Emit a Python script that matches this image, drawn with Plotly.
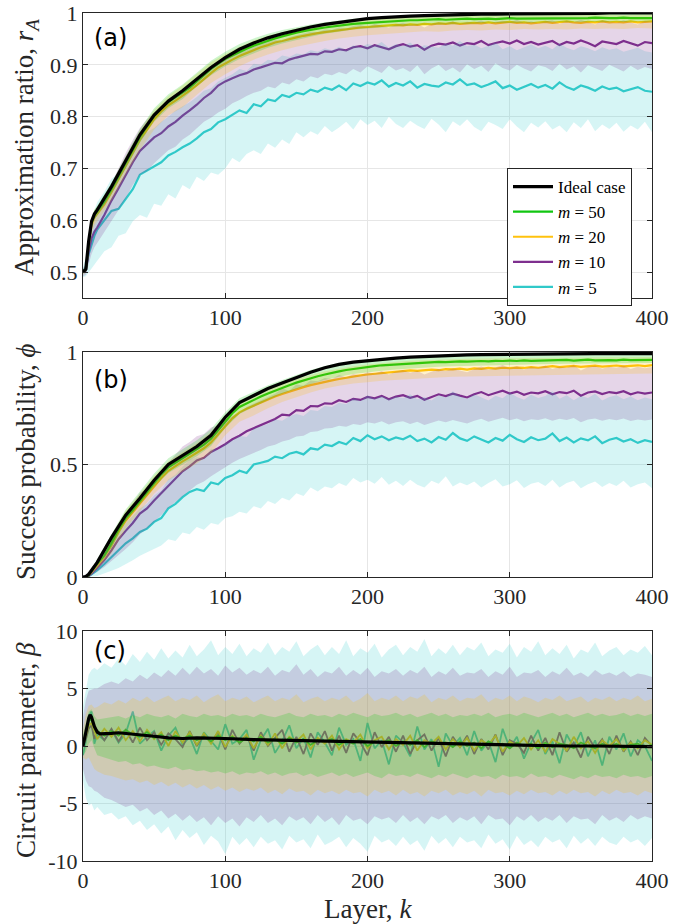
import plotly.graph_objects as go

# ---------------- grids (layer index k) ----------------
K = [0, 2, 4, 6, 8] + list(range(10, 401, 5))          # dense grid for noisy series
KS = [0, 2, 4, 6, 8, 10] + list(range(20, 401, 10))    # sparse grid for smooth series
KC = [0, 2, 4, 5, 6, 8, 10, 12, 15, 20, 25, 30, 40, 50, 60, 70, 80, 90, 100,
      120, 140, 160, 180, 200, 220, 240, 260, 280, 300, 320, 340, 360, 380, 400]

X_TICKS = [0, 100, 200, 300, 400]
YA_TICKS = [0.5, 0.6, 0.7, 0.8, 0.9, 1.0]
YA_TICKTEXT = ["0.5", "0.6", "0.7", "0.8", "0.9", "1"]
YB_TICKS = [0, 0.5, 1]
YB_TICKTEXT = ["0", "0.5", "1"]
YC_TICKS = [-10, -5, 0, 5, 10]
YC_TICKTEXT = ["-10", "-5", "0", "5", "10"]

SERIES_NAMES = ["<i>m</i> = 50", "<i>m</i> = 20", "<i>m</i> = 10", "<i>m</i> = 5"]

# ---------------- panel (a): approximation ratio ----------------
RA_IDEAL = [0.500, 0.506, 0.560, 0.598, 0.612, 0.620,
            0.665, 0.715, 0.765, 0.803, 0.830, 0.850, 0.872, 0.895, 0.914, 0.930,
            0.942, 0.952, 0.960, 0.967, 0.973, 0.978, 0.982, 0.986, 0.989, 0.991,
            0.993, 0.994, 0.995, 0.996, 0.997, 0.997, 0.998, 0.998, 0.998, 0.999,
            0.999, 0.999, 0.999, 0.999, 0.999, 1.000, 1.000, 1.000, 1.000]

RA_M50 = [0.500, 0.505, 0.555, 0.595, 0.610, 0.617, 0.636, 0.660,
          0.686, 0.711, 0.737, 0.761, 0.781, 0.801, 0.816, 0.828, 0.837, 0.846,
          0.856, 0.868, 0.880, 0.892, 0.902, 0.911, 0.918, 0.925, 0.931, 0.937,
          0.942, 0.947, 0.951, 0.955, 0.959, 0.962, 0.965, 0.968, 0.970, 0.972,
          0.974, 0.976, 0.977, 0.979, 0.980, 0.981, 0.982, 0.983, 0.984, 0.985,
          0.985, 0.986, 0.986, 0.987, 0.987, 0.988, 0.987, 0.988, 0.988, 0.989,
          0.988, 0.989, 0.989, 0.988, 0.989, 0.990, 0.989, 0.989, 0.990, 0.989,
          0.990, 0.989, 0.990, 0.990, 0.989, 0.990, 0.990, 0.991, 0.990, 0.990,
          0.990, 0.991, 0.990, 0.990, 0.991, 0.990]

RA_M20 = [0.500, 0.505, 0.552, 0.590, 0.605, 0.612, 0.630, 0.654,
          0.680, 0.705, 0.731, 0.755, 0.775, 0.795, 0.810, 0.822, 0.831, 0.840,
          0.850, 0.861, 0.873, 0.884, 0.895, 0.903, 0.910, 0.917, 0.923, 0.929,
          0.934, 0.938, 0.943, 0.946, 0.950, 0.953, 0.956, 0.959, 0.961, 0.963,
          0.965, 0.967, 0.969, 0.970, 0.972, 0.973, 0.974, 0.975, 0.976, 0.977,
          0.976, 0.978, 0.977, 0.979, 0.978, 0.980, 0.979, 0.981, 0.979, 0.980,
          0.981, 0.980, 0.982, 0.980, 0.981, 0.983, 0.981, 0.982, 0.980, 0.982,
          0.983, 0.981, 0.982, 0.984, 0.982, 0.981, 0.983, 0.982, 0.984, 0.982,
          0.983, 0.982, 0.984, 0.982, 0.983, 0.984]

RA_M10 = [0.500, 0.503, 0.540, 0.565, 0.578, 0.586, 0.610, 0.638,
          0.662, 0.688, 0.712, 0.734, 0.748, 0.760, 0.768, 0.781, 0.790, 0.802,
          0.812, 0.823, 0.836, 0.846, 0.860, 0.868, 0.874, 0.880, 0.884, 0.891,
          0.895, 0.899, 0.904, 0.903, 0.910, 0.914, 0.918, 0.921, 0.920, 0.926,
          0.925, 0.930, 0.928, 0.934, 0.936, 0.932, 0.938, 0.934, 0.930, 0.936,
          0.940, 0.935, 0.938, 0.929, 0.937, 0.941, 0.939, 0.943, 0.937, 0.942,
          0.940, 0.946, 0.938, 0.942, 0.945, 0.941, 0.947, 0.940, 0.944, 0.939,
          0.943, 0.946, 0.938, 0.944, 0.941, 0.947, 0.942, 0.936, 0.945, 0.943,
          0.940, 0.946, 0.941, 0.937, 0.944, 0.942]

RA_M5 = [0.500, 0.510, 0.535, 0.555, 0.570, 0.582, 0.600, 0.618,
         0.622, 0.640, 0.660, 0.688, 0.696, 0.704, 0.712, 0.725, 0.732, 0.741,
         0.748, 0.758, 0.770, 0.776, 0.789, 0.795, 0.803, 0.812, 0.807, 0.824,
         0.820, 0.833, 0.830, 0.842, 0.838, 0.846, 0.843, 0.852, 0.848, 0.856,
         0.852, 0.860, 0.851, 0.864, 0.859, 0.866, 0.862, 0.870, 0.858, 0.865,
         0.860, 0.868, 0.856, 0.863, 0.860, 0.858, 0.866, 0.862, 0.872, 0.861,
         0.864, 0.857, 0.862, 0.868, 0.855, 0.860, 0.852, 0.858, 0.863, 0.856,
         0.861, 0.854, 0.866, 0.857, 0.852, 0.860, 0.856, 0.850, 0.858, 0.853,
         0.856, 0.849, 0.853, 0.857, 0.850, 0.848]

RA_M5_LO = [0.490, 0.492, 0.500, 0.508, 0.515, 0.522, 0.540, 0.548,
            0.570, 0.575, 0.598, 0.610, 0.605, 0.632, 0.628, 0.650, 0.642, 0.668,
            0.660, 0.684, 0.676, 0.692, 0.688, 0.700, 0.720, 0.712, 0.728, 0.735,
            0.728, 0.748, 0.740, 0.756, 0.747, 0.770, 0.760, 0.772, 0.765, 0.782,
            0.770, 0.779, 0.790, 0.775, 0.795, 0.784, 0.792, 0.778, 0.800, 0.786,
            0.778, 0.792, 0.783, 0.776, 0.796, 0.785, 0.770, 0.791, 0.782, 0.795,
            0.780, 0.772, 0.790, 0.784, 0.776, 0.795, 0.781, 0.770, 0.788, 0.779,
            0.791, 0.775, 0.783, 0.770, 0.789, 0.778, 0.795, 0.772, 0.785, 0.776,
            0.788, 0.771, 0.783, 0.775, 0.790, 0.770]

RA_M5_HI = [0.510, 0.530, 0.570, 0.600, 0.620, 0.635, 0.655, 0.680,
            0.690, 0.710, 0.730, 0.760, 0.770, 0.778, 0.790, 0.800, 0.812, 0.820,
            0.828, 0.838, 0.850, 0.855, 0.868, 0.875, 0.882, 0.892, 0.888, 0.902,
            0.900, 0.910, 0.908, 0.918, 0.915, 0.922, 0.920, 0.928, 0.925, 0.932,
            0.928, 0.935, 0.928, 0.938, 0.934, 0.940, 0.937, 0.944, 0.933, 0.940,
            0.936, 0.943, 0.932, 0.938, 0.936, 0.933, 0.941, 0.937, 0.946, 0.936,
            0.939, 0.932, 0.937, 0.943, 0.930, 0.936, 0.928, 0.934, 0.939, 0.932,
            0.937, 0.930, 0.941, 0.933, 0.928, 0.936, 0.932, 0.926, 0.934, 0.929,
            0.932, 0.925, 0.929, 0.933, 0.926, 0.924]

RA_M10_LO = [0.492, 0.495, 0.515, 0.535, 0.548, 0.556, 0.578, 0.598,
             0.620, 0.642, 0.668, 0.688, 0.695, 0.710, 0.722, 0.735, 0.742, 0.756,
             0.765, 0.778, 0.790, 0.798, 0.808, 0.815, 0.826, 0.832, 0.840, 0.846,
             0.850, 0.858, 0.855, 0.866, 0.862, 0.872, 0.868, 0.878, 0.874, 0.883,
             0.880, 0.886, 0.882, 0.892, 0.885, 0.897, 0.890, 0.884, 0.898, 0.889,
             0.894, 0.886, 0.899, 0.882, 0.893, 0.900, 0.888, 0.895, 0.885, 0.901,
             0.892, 0.898, 0.886, 0.903, 0.894, 0.889, 0.900, 0.893, 0.887, 0.899,
             0.896, 0.888, 0.902, 0.891, 0.897, 0.885, 0.899, 0.893, 0.888, 0.900,
             0.894, 0.887, 0.898, 0.890, 0.896, 0.892]

RA_M10_HI = [0.508, 0.515, 0.565, 0.595, 0.608, 0.616, 0.642, 0.672,
             0.700, 0.730, 0.755, 0.778, 0.795, 0.808, 0.817, 0.830, 0.840, 0.850,
             0.860, 0.870, 0.882, 0.892, 0.904, 0.912, 0.918, 0.924, 0.928, 0.935,
             0.939, 0.943, 0.948, 0.947, 0.953, 0.957, 0.961, 0.964, 0.963, 0.968,
             0.967, 0.972, 0.970, 0.975, 0.977, 0.973, 0.979, 0.976, 0.972, 0.978,
             0.981, 0.977, 0.979, 0.972, 0.979, 0.982, 0.980, 0.984, 0.979, 0.983,
             0.981, 0.986, 0.979, 0.983, 0.985, 0.982, 0.987, 0.981, 0.984, 0.980,
             0.984, 0.986, 0.979, 0.985, 0.982, 0.987, 0.983, 0.978, 0.986, 0.984,
             0.981, 0.986, 0.982, 0.978, 0.985, 0.983]

RA_M20_LO = [0.495, 0.500, 0.540, 0.575, 0.590, 0.598,
             0.638, 0.688, 0.735, 0.775, 0.802, 0.818, 0.842, 0.865, 0.882, 0.897,
             0.910, 0.920, 0.928, 0.935, 0.941, 0.946, 0.951, 0.954, 0.957, 0.960,
             0.962, 0.963, 0.965, 0.964, 0.966, 0.967, 0.966, 0.968, 0.967, 0.969,
             0.968, 0.969, 0.968, 0.970, 0.969, 0.970, 0.969, 0.971, 0.970]

RA_M20_HI = [0.505, 0.512, 0.565, 0.605, 0.620, 0.626,
             0.670, 0.722, 0.773, 0.813, 0.840, 0.860, 0.882, 0.905, 0.921, 0.935,
             0.947, 0.956, 0.963, 0.970, 0.975, 0.979, 0.983, 0.986, 0.988, 0.990,
             0.991, 0.992, 0.993, 0.993, 0.994, 0.994, 0.995, 0.995, 0.995, 0.995,
             0.996, 0.996, 0.996, 0.996, 0.996, 0.997, 0.996, 0.997, 0.997]

RA_M50_LO = [0.497, 0.502, 0.548, 0.587, 0.602, 0.609,
             0.650, 0.700, 0.750, 0.790, 0.816, 0.834, 0.858, 0.880, 0.897, 0.911,
             0.922, 0.933, 0.941, 0.948, 0.954, 0.960, 0.964, 0.968, 0.970, 0.972,
             0.974, 0.976, 0.977, 0.978, 0.979, 0.979, 0.980, 0.980, 0.981, 0.981,
             0.981, 0.982, 0.982, 0.982, 0.982, 0.983, 0.983, 0.983, 0.983]

RA_M50_HI = [0.503, 0.510, 0.565, 0.605, 0.620, 0.628,
             0.672, 0.724, 0.776, 0.816, 0.843, 0.862, 0.885, 0.908, 0.925, 0.940,
             0.951, 0.960, 0.967, 0.973, 0.978, 0.982, 0.986, 0.989, 0.991, 0.993,
             0.994, 0.995, 0.996, 0.996, 0.997, 0.997, 0.997, 0.998, 0.998, 0.998,
             0.998, 0.998, 0.999, 0.999, 0.999, 0.999, 0.999, 0.999, 0.999]

# ---------------- panel (b): success probability ----------------
PHI_IDEAL = [0.000, 0.002, 0.012, 0.030, 0.050, 0.065,
             0.175, 0.275, 0.350, 0.430, 0.500, 0.540, 0.580, 0.630, 0.710, 0.775,
             0.808, 0.838, 0.862, 0.886, 0.910, 0.930, 0.945, 0.955, 0.962, 0.968,
             0.973, 0.977, 0.980, 0.983, 0.985, 0.987, 0.988, 0.989, 0.990, 0.991,
             0.991, 0.992, 0.992, 0.992, 0.993, 0.993, 0.993, 0.993, 0.993]

PHI_M50 = [0.000, 0.001, 0.008, 0.025, 0.045, 0.060, 0.095, 0.150,
           0.212, 0.262, 0.298, 0.338, 0.378, 0.418, 0.456, 0.488, 0.508, 0.528,
           0.548, 0.567, 0.588, 0.615, 0.652, 0.692, 0.728, 0.756, 0.772, 0.786,
           0.802, 0.816, 0.829, 0.841, 0.852, 0.864, 0.874, 0.884, 0.892, 0.900,
           0.908, 0.914, 0.920, 0.925, 0.930, 0.934, 0.937, 0.941, 0.943, 0.946,
           0.948, 0.950, 0.952, 0.951, 0.954, 0.956, 0.955, 0.957, 0.958, 0.957,
           0.959, 0.960, 0.958, 0.961, 0.960, 0.962, 0.960, 0.963, 0.961, 0.962,
           0.964, 0.962, 0.963, 0.965, 0.962, 0.964, 0.966, 0.963, 0.965, 0.964,
           0.963, 0.966, 0.964, 0.965, 0.963, 0.965]

PHI_M20 = [0.000, 0.001, 0.007, 0.022, 0.040, 0.055, 0.088, 0.140,
           0.200, 0.250, 0.286, 0.326, 0.364, 0.404, 0.440, 0.472, 0.494, 0.514,
           0.533, 0.552, 0.572, 0.598, 0.632, 0.670, 0.705, 0.732, 0.748, 0.762,
           0.776, 0.790, 0.802, 0.813, 0.824, 0.834, 0.844, 0.853, 0.861, 0.868,
           0.874, 0.880, 0.886, 0.891, 0.896, 0.900, 0.903, 0.907, 0.910, 0.913,
           0.915, 0.918, 0.916, 0.920, 0.922, 0.919, 0.924, 0.923, 0.926, 0.922,
           0.927, 0.925, 0.929, 0.926, 0.930, 0.928, 0.931, 0.929, 0.933, 0.930,
           0.934, 0.937, 0.933, 0.936, 0.938, 0.934, 0.937, 0.939, 0.935, 0.938,
           0.940, 0.936, 0.939, 0.941, 0.937, 0.942]

PHI_M10 = [0.000, 0.001, 0.005, 0.015, 0.028, 0.040, 0.075, 0.118,
           0.168, 0.205, 0.240, 0.282, 0.305, 0.340, 0.372, 0.408, 0.440, 0.470,
           0.492, 0.518, 0.530, 0.556, 0.572, 0.590, 0.612, 0.628, 0.648, 0.662,
           0.676, 0.690, 0.702, 0.722, 0.718, 0.742, 0.738, 0.760, 0.758, 0.772,
           0.770, 0.786, 0.778, 0.792, 0.787, 0.800, 0.794, 0.805, 0.790, 0.802,
           0.808, 0.796, 0.805, 0.788, 0.800, 0.812, 0.804, 0.815, 0.806, 0.798,
           0.812, 0.822, 0.808, 0.818, 0.828, 0.815, 0.824, 0.810, 0.820, 0.816,
           0.826, 0.812, 0.822, 0.817, 0.828, 0.806, 0.820, 0.825, 0.813, 0.822,
           0.817, 0.826, 0.812, 0.821, 0.815, 0.820]

PHI_M5 = [0.000, 0.001, 0.004, 0.012, 0.020, 0.030, 0.058, 0.090,
          0.118, 0.150, 0.172, 0.200, 0.215, 0.245, 0.262, 0.305, 0.325, 0.355,
          0.378, 0.390, 0.382, 0.420, 0.412, 0.440, 0.452, 0.472, 0.462, 0.500,
          0.508, 0.516, 0.535, 0.528, 0.548, 0.556, 0.545, 0.572, 0.566, 0.588,
          0.582, 0.600, 0.590, 0.618, 0.604, 0.630, 0.612, 0.625, 0.608, 0.620,
          0.612, 0.628, 0.604, 0.615, 0.598, 0.622, 0.610, 0.640, 0.616, 0.605,
          0.625, 0.610, 0.598, 0.618, 0.606, 0.632, 0.612, 0.600, 0.621, 0.608,
          0.615, 0.638, 0.604, 0.620, 0.598, 0.616, 0.607, 0.625, 0.595, 0.610,
          0.618, 0.602, 0.612, 0.596, 0.608, 0.600]

PHI_M5_LO = [0.000, 0.000, 0.000, 0.002, 0.003, 0.005, 0.015, 0.028,
             0.040, 0.058, 0.075, 0.095, 0.108, 0.125, 0.140, 0.168, 0.160, 0.198,
             0.190, 0.222, 0.210, 0.240, 0.232, 0.262, 0.270, 0.290, 0.282, 0.315,
             0.305, 0.338, 0.325, 0.352, 0.340, 0.372, 0.360, 0.398, 0.380, 0.402,
             0.395, 0.418, 0.405, 0.440, 0.420, 0.432, 0.415, 0.445, 0.410, 0.428,
             0.405, 0.432, 0.410, 0.398, 0.428, 0.415, 0.448, 0.402, 0.420, 0.408,
             0.425, 0.398, 0.418, 0.435, 0.402, 0.412, 0.430, 0.396, 0.415, 0.422,
             0.405, 0.432, 0.398, 0.418, 0.428, 0.395, 0.412, 0.425, 0.400, 0.418,
             0.405, 0.428, 0.398, 0.412, 0.420, 0.395]

PHI_M5_HI = [0.000, 0.004, 0.012, 0.028, 0.042, 0.058, 0.100, 0.150,
             0.195, 0.240, 0.272, 0.305, 0.325, 0.362, 0.385, 0.435, 0.455, 0.490,
             0.520, 0.532, 0.528, 0.570, 0.565, 0.592, 0.608, 0.628, 0.622, 0.660,
             0.670, 0.680, 0.700, 0.695, 0.715, 0.724, 0.716, 0.742, 0.738, 0.760,
             0.756, 0.775, 0.768, 0.795, 0.782, 0.808, 0.792, 0.805, 0.790, 0.802,
             0.795, 0.812, 0.790, 0.800, 0.785, 0.808, 0.798, 0.826, 0.802, 0.792,
             0.812, 0.798, 0.785, 0.806, 0.794, 0.820, 0.800, 0.788, 0.810, 0.796,
             0.804, 0.826, 0.792, 0.808, 0.786, 0.804, 0.796, 0.814, 0.784, 0.800,
             0.808, 0.790, 0.802, 0.786, 0.798, 0.790]

PHI_M10_LO = [0.000, 0.000, 0.002, 0.008, 0.015, 0.022, 0.045, 0.068,
              0.098, 0.125, 0.155, 0.190, 0.215, 0.245, 0.275, 0.308, 0.335, 0.360,
              0.385, 0.410, 0.425, 0.448, 0.470, 0.488, 0.508, 0.525, 0.540, 0.552,
              0.565, 0.580, 0.588, 0.602, 0.610, 0.625, 0.628, 0.645, 0.648, 0.660,
              0.662, 0.672, 0.668, 0.680, 0.676, 0.688, 0.682, 0.692, 0.678, 0.688,
              0.692, 0.680, 0.690, 0.676, 0.686, 0.696, 0.688, 0.698, 0.690, 0.682,
              0.695, 0.703, 0.690, 0.700, 0.708, 0.697, 0.704, 0.692, 0.701, 0.698,
              0.706, 0.694, 0.703, 0.698, 0.707, 0.688, 0.700, 0.705, 0.694, 0.702,
              0.697, 0.705, 0.693, 0.700, 0.696, 0.700]

PHI_M10_HI = [0.000, 0.003, 0.010, 0.025, 0.042, 0.058, 0.105, 0.168,
              0.238, 0.285, 0.325, 0.374, 0.395, 0.435, 0.469, 0.508, 0.545, 0.580,
              0.600, 0.626, 0.636, 0.664, 0.675, 0.692, 0.716, 0.731, 0.756, 0.770,
              0.786, 0.800, 0.815, 0.838, 0.828, 0.856, 0.850, 0.873, 0.870, 0.884,
              0.880, 0.898, 0.888, 0.902, 0.897, 0.910, 0.904, 0.916, 0.900, 0.913,
              0.920, 0.908, 0.917, 0.900, 0.912, 0.925, 0.916, 0.928, 0.918, 0.910,
              0.925, 0.936, 0.921, 0.931, 0.942, 0.928, 0.938, 0.922, 0.934, 0.929,
              0.940, 0.924, 0.935, 0.930, 0.942, 0.918, 0.933, 0.939, 0.926, 0.935,
              0.930, 0.940, 0.925, 0.934, 0.928, 0.933]

PHI_M20_LO = [0.000, 0.000, 0.003, 0.012, 0.025, 0.035,
              0.105, 0.215, 0.295, 0.370, 0.430, 0.468, 0.505, 0.550, 0.630, 0.690,
              0.718, 0.750, 0.778, 0.800, 0.820, 0.838, 0.850, 0.860, 0.866, 0.872,
              0.876, 0.880, 0.884, 0.887, 0.890, 0.892, 0.894, 0.896, 0.897, 0.898,
              0.899, 0.900, 0.901, 0.902, 0.903, 0.903, 0.904, 0.904, 0.905]

PHI_M20_HI = [0.002, 0.004, 0.012, 0.032, 0.055, 0.075,
              0.185, 0.295, 0.370, 0.450, 0.515, 0.555, 0.595, 0.645, 0.718, 0.776,
              0.806, 0.836, 0.860, 0.880, 0.898, 0.914, 0.927, 0.937, 0.945, 0.952,
              0.957, 0.961, 0.964, 0.966, 0.968, 0.970, 0.971, 0.972, 0.973, 0.974,
              0.975, 0.975, 0.976, 0.976, 0.977, 0.977, 0.977, 0.978, 0.978]

PHI_M50_LO = [0.000, 0.000, 0.005, 0.018, 0.035, 0.048,
              0.130, 0.245, 0.322, 0.400, 0.462, 0.500, 0.537, 0.582, 0.662, 0.724,
              0.754, 0.787, 0.814, 0.837, 0.858, 0.876, 0.890, 0.902, 0.910, 0.917,
              0.922, 0.927, 0.931, 0.934, 0.937, 0.939, 0.941, 0.943, 0.944, 0.945,
              0.946, 0.947, 0.948, 0.949, 0.949, 0.950, 0.950, 0.951, 0.951]

PHI_M50_HI = [0.002, 0.004, 0.014, 0.036, 0.060, 0.078,
              0.192, 0.300, 0.380, 0.460, 0.528, 0.568, 0.608, 0.658, 0.732, 0.795,
              0.825, 0.852, 0.876, 0.899, 0.920, 0.938, 0.951, 0.960, 0.967, 0.972,
              0.976, 0.979, 0.981, 0.983, 0.984, 0.985, 0.986, 0.987, 0.987, 0.988,
              0.988, 0.988, 0.989, 0.989, 0.989, 0.989, 0.989, 0.989, 0.989]

# ---------------- panel (c): circuit parameter beta ----------------
BETA_IDEAL = [0.0, 1.3, 2.4, 2.7, 2.5, 1.7, 1.2, 1.05, 1.05, 1.1, 1.15, 1.1, 1.0,
              0.85, 0.7, 0.65, 0.7, 0.7, 0.65, 0.55, 0.5, 0.4, 0.35, 0.3, 0.25,
              0.2, 0.15, 0.1, 0.05, 0.05, 0.0, 0.0, -0.05, -0.05]

BETA_M50 = [0.0, 1.0, 2.2, 2.3, 1.6, 1.3, 0.9, 1.3,
            0.9, 1.4, 1.0, 0.8, 1.2, 0.7, 1.0, 0.5, 0.9, 0.6,
            0.9, 0.5, 0.8, 0.4, 0.9, 0.5, 0.8, 0.3, 0.7, 0.4,
            0.8, 0.3, 0.6, 0.2, 0.7, 0.3, 0.6, 0.1, 0.5, 0.4,
            0.6, 0.1, 0.5, 0.2, 0.6, 0.0, 0.4, 0.3, 0.5, 0.0,
            0.4, 0.1, 0.5, -0.1, 0.4, 0.2, 0.3, -0.1, 0.4, 0.0,
            0.3, -0.2, 0.4, 0.1, 0.2, -0.2, 0.3, 0.0, 0.2, -0.2,
            0.3, -0.1, 0.2, 0.1, -0.2, 0.3, 0.0, -0.2, 0.2, -0.1,
            0.2, -0.2, 0.1, 0.2, -0.1, 0.1]

BETA_M20 = [0.0, 0.8, 1.8, 2.0, 1.2, 0.6, 1.5, 0.8,
            1.6, 0.5, 1.3, 0.4, 1.4, 0.6, 1.2, 0.0, 1.3, 0.3,
            1.2, 0.1, 1.1, 0.2, 1.3, -0.1, 0.9, 0.3, 1.0, -0.2,
            0.9, 0.1, 1.1, -0.2, 0.8, 0.4, 1.0, -0.3, 0.7, 0.2,
            0.9, -0.3, 0.6, 0.3, 1.0, -0.2, 0.5, 0.8, -0.3, 0.6,
            0.1, 0.9, -0.4, 0.5, 0.2, 0.8, -0.3, 0.6, -0.1, 0.7,
            -0.4, 0.5, 0.1, 0.9, -0.5, 0.4, 0.0, 0.7, -0.3, 0.5,
            -0.5, 0.6, 0.2, -0.4, 0.8, -0.2, 0.4, -0.6, 0.5, 0.0,
            0.6, -0.4, 0.3, -0.2, 0.5, 0.1]

BETA_M10 = [0.0, 0.6, 1.5, 1.8, 0.6, 1.4, 0.5, 1.5,
            0.4, 1.4, 0.3, 1.6, 0.5, 1.2, 0.1, 1.1, 0.6, -0.1,
            1.3, 0.0, 1.0, 0.3, 1.2, -0.3, 1.4, 0.2, 0.9, -0.4,
            1.2, 0.0, 0.7, 1.4, -0.5, 0.8, -0.7, 1.1, 0.1, 1.3,
            -0.4, 0.9, -0.6, 1.1, 0.3, -0.8, 1.2, -0.1, 0.8, -0.5,
            0.9, -0.7, 0.5, 1.0, -0.4, 0.7, -0.9, 0.8, -0.1, 0.9,
            -0.7, 0.6, -0.3, 1.0, -0.8, 0.5, 0.2, -0.6, 0.9, -0.4,
            0.7, -0.8, 1.2, -0.5, 0.3, -1.0, 0.8, -0.2, 0.6, -0.7,
            0.9, -0.5, 0.4, -0.8, 0.7, 0.0]

BETA_M5 = [-0.8, 0.4, 2.6, 3.0, 0.2, 1.0, 0.5, 1.4,
           0.3, 1.1, 3.0, 0.2, 0.8, 1.3, -0.4, 0.9, 1.6, 0.1,
           0.8, -0.7, 1.2, 0.4, -0.3, 1.9, 0.2, 0.6, 1.4, -1.2,
           0.5, 1.5, -0.6, 0.4, 1.8, -0.2, 0.7, -1.0, 1.2, 0.3,
           -0.8, 1.6, 0.1, 0.6, -1.3, 2.0, -0.2, 0.5, -1.6, 0.9,
           0.3, -0.9, 1.7, -0.3, 0.6, -1.8, 1.1, 0.0, 0.7, -0.8,
           1.3, -0.4, 0.4, -1.4, 1.5, -0.2, 0.8, -1.1, 0.3, 1.4,
           -0.7, 0.4, -1.5, 1.0, -0.1, 1.2, -0.9, 0.5, -1.7, 0.8,
           -0.3, 1.1, -0.9, 0.5, 0.0, -1.3]

BETA_M5_HI = [3.5, 5.0, 6.2, 6.6, 6.8, 6.6, 7.2, 6.8,
              7.6, 7.0, 8.0, 7.3, 8.2, 7.5, 8.5, 7.6, 8.3, 7.7,
              8.8, 7.8, 8.4, 9.2, 7.9, 8.6, 8.0, 8.9, 7.8, 8.5,
              8.1, 9.0, 7.9, 8.6, 8.2, 9.1, 7.8, 8.4, 8.8, 7.9,
              8.6, 8.0, 9.2, 7.8, 8.5, 8.1, 8.9, 7.7, 8.4, 8.8,
              7.9, 8.6, 8.2, 9.3, 7.8, 8.5, 8.0, 8.8, 7.9, 8.6,
              8.3, 9.0, 7.8, 8.4, 8.1, 8.9, 7.7, 8.6, 8.2, 9.1,
              7.9, 8.5, 8.0, 8.8, 7.6, 8.4, 8.1, 9.0, 7.8, 8.3,
              8.6, 7.9, 8.4, 8.1, 8.7, 7.9]

BETA_M5_LO = [-3.0, -4.5, -5.2, -5.0, -5.6, -5.3, -6.0, -5.8,
              -6.4, -6.1, -6.9, -6.5, -7.3, -6.8, -7.6, -7.0, -8.2, -7.3,
              -8.0, -7.5, -8.6, -7.8, -8.3, -9.4, -7.9, -8.6, -8.0, -8.8,
              -7.9, -8.5, -8.2, -9.0, -7.8, -8.4, -8.1, -8.9, -7.7, -8.6,
              -8.3, -7.9, -8.8, -8.0, -8.5, -9.2, -7.8, -8.4, -8.1, -8.7,
              -7.9, -8.6, -8.2, -9.1, -7.8, -8.5, -8.0, -8.8, -7.9, -8.4,
              -8.2, -8.9, -7.7, -8.5, -8.1, -9.0, -7.8, -8.6, -8.2, -8.8,
              -7.9, -8.4, -8.1, -8.9, -7.8, -8.5, -8.0, -8.7, -7.9, -8.4,
              -8.6, -7.9, -8.4, -8.1, -8.7, -8.0]

BETA_M10_HI = [2.5, 4.0, 4.8, 4.9, 5.0, 5.0, 5.4, 5.6,
               5.4, 5.9, 5.6, 6.2, 5.8, 6.4, 6.0, 6.6, 6.1, 6.8,
               6.2, 6.9, 6.3, 6.7, 6.1, 7.0, 6.4, 6.8, 6.2, 6.6,
               6.3, 6.9, 6.1, 6.6, 6.4, 7.1, 6.2, 6.7, 6.0, 6.5,
               6.3, 6.9, 6.1, 6.6, 6.2, 6.8, 6.0, 6.5, 6.3, 6.7,
               6.1, 6.6, 6.3, 6.9, 6.0, 6.5, 6.2, 6.8, 6.1, 6.4,
               6.3, 6.7, 6.0, 6.5, 6.2, 6.9, 6.0, 6.4, 6.3, 6.6,
               6.0, 6.5, 6.2, 6.8, 6.1, 6.4, 6.0, 6.6, 6.2, 6.4,
               6.1, 6.5, 6.0, 6.3, 6.2, 6.0]

BETA_M10_LO = [-2.0, -3.0, -3.5, -3.6, -3.9, -4.0, -4.5, -4.7,
               -5.0, -5.3, -5.1, -5.7, -5.4, -6.0, -5.6, -6.3, -5.9, -6.5,
               -6.0, -6.6, -6.2, -6.9, -6.1, -6.7, -6.3, -7.0, -6.2, -6.6,
               -6.0, -6.7, -6.3, -6.9, -6.1, -6.5, -6.2, -6.8, -6.0, -6.6,
               -6.2, -6.9, -6.0, -6.5, -6.3, -6.8, -6.1, -6.4, -6.2, -6.7,
               -6.0, -6.6, -6.2, -6.8, -6.1, -6.4, -6.0, -6.7, -6.2, -6.5,
               -6.1, -6.8, -6.0, -6.4, -6.3, -6.9, -6.1, -6.5, -6.0, -6.6,
               -6.2, -6.5, -6.0, -6.7, -6.1, -6.4, -6.3, -6.8, -6.0, -6.5,
               -6.2, -6.6, -6.0, -6.4, -6.1, -6.3]

BETA_M20_HI = [1.5, 2.8, 3.5, 3.6, 3.3, 3.4, 3.8, 3.6,
               4.0, 3.7, 4.2, 3.9, 4.3, 3.8, 4.1, 4.4, 3.9, 4.2,
               4.0, 4.4, 3.8, 4.2, 4.5, 3.9, 4.2, 4.0, 4.3, 3.8,
               4.1, 4.4, 3.9, 4.2, 4.0, 4.5, 3.8, 4.1, 4.3, 3.9,
               4.2, 4.0, 4.4, 3.8, 4.1, 4.6, 3.9, 4.2, 4.0, 4.4,
               3.9, 4.3, 4.1, 4.5, 3.8, 4.2, 4.0, 4.4, 3.9, 4.2,
               4.1, 4.5, 3.8, 4.2, 4.0, 4.4, 3.9, 4.3, 4.1, 3.8,
               4.2, 4.0, 4.4, 3.9, 4.1, 4.3, 3.8, 4.2, 4.0, 4.3,
               3.9, 4.2, 4.0, 4.4, 3.9, 4.1]

BETA_M20_LO = [-1.0, -1.2, -1.0, -1.5, -2.0, -2.2, -2.5, -2.6,
               -2.8, -3.0, -2.9, -3.2, -3.0, -3.4, -3.1, -3.5, -3.2, -3.6,
               -3.3, -3.7, -3.4, -3.8, -3.5, -3.9, -3.6, -4.0, -3.7, -3.9,
               -3.6, -4.1, -3.8, -4.2, -3.7, -4.0, -3.9, -4.3, -3.8, -4.1,
               -3.9, -4.2, -3.8, -4.1, -4.0, -4.4, -3.8, -4.1, -3.9, -4.3,
               -3.8, -4.2, -4.0, -4.4, -3.9, -4.1, -3.8, -4.3, -4.0, -4.2,
               -3.9, -4.4, -3.8, -4.1, -4.0, -4.3, -3.9, -4.2, -3.8, -4.1,
               -4.0, -4.3, -3.9, -4.2, -3.8, -4.1, -4.0, -4.4, -3.9, -4.2,
               -3.8, -4.1, -4.0, -4.3, -3.9, -4.1]

BETA_M50_HI = [1.0, 2.0, 3.0, 3.2, 2.6, 2.3, 2.4, 2.5,
               2.6, 2.4, 2.7, 2.5, 2.8, 2.6, 2.5, 2.7, 2.4, 2.8,
               2.6, 2.5, 2.8, 2.6, 2.7, 2.5, 2.8, 2.6, 2.7, 2.5,
               2.8, 2.6, 2.5, 2.7, 2.9, 2.6, 2.5, 2.8, 2.6, 2.7,
               2.5, 2.8, 2.6, 2.9, 2.7, 2.5, 2.8, 2.6, 2.7, 2.9,
               2.6, 2.8, 2.5, 2.7, 2.9, 2.6, 2.8, 2.5, 2.7, 2.6,
               2.8, 2.6, 2.9, 2.5, 2.7, 2.8, 2.6, 2.9, 2.7, 2.5,
               2.7, 2.9, 2.6, 2.8, 2.5, 2.7, 2.9, 2.6, 2.8, 2.6,
               2.7, 2.9, 2.6, 2.8, 2.6, 2.8]

BETA_M50_LO = [-0.8, -0.5, 0.2, 0.5, -0.2, -0.8, -1.0, -1.2,
               -1.4, -1.3, -1.6, -1.5, -1.8, -1.7, -1.9, -2.0, -1.8, -2.1,
               -2.0, -2.2, -2.1, -2.3, -2.2, -2.4, -2.2, -2.5, -2.3, -2.4,
               -2.2, -2.5, -2.3, -2.6, -2.4, -2.3, -2.6, -2.4, -2.7, -2.5,
               -2.3, -2.6, -2.4, -2.7, -2.5, -2.3, -2.6, -2.8, -2.4, -2.6,
               -2.5, -2.7, -2.4, -2.6, -2.8, -2.5, -2.7, -2.4, -2.6, -2.8,
               -2.5, -2.7, -2.6, -2.9, -2.5, -2.7, -2.6, -2.8, -2.4, -2.7,
               -2.6, -2.8, -2.5, -2.7, -2.9, -2.6, -2.8, -2.5, -2.7, -2.6,
               -2.8, -2.5, -2.7, -2.6, -2.8, -2.6]

# ---------------- styling ----------------
LINE_COLORS = ["#11C611", "#FFC20E", "#7E2F8E", "#30C9C9"]          # m=50, 20, 10, 5
BAND_COLORS = ["rgba(0,204,0,0.2)", "rgba(255,192,0,0.2)",
               "rgba(126,47,142,0.2)", "rgba(51,204,204,0.2)"]
AXIS_COLOR = "#262626"
GRID_COLOR = "#e6e6e6"
SERIF = "Liberation Serif, Times New Roman, serif"
SANS = "DejaVu Sans, Verdana, sans-serif"

panels = [
    dict(ideal_k=KS, ideal=RA_IDEAL, lw=2.2,
         lines=[(K, RA_M50), (K, RA_M20), (K, RA_M10), (K, RA_M5)],
         bands=[(KS, RA_M50_LO, RA_M50_HI), (KS, RA_M20_LO, RA_M20_HI),
                (K, RA_M10_LO, RA_M10_HI), (K, RA_M5_LO, RA_M5_HI)]),
    dict(ideal_k=KS, ideal=PHI_IDEAL, lw=2.2,
         lines=[(K, PHI_M50), (K, PHI_M20), (K, PHI_M10), (K, PHI_M5)],
         bands=[(KS, PHI_M50_LO, PHI_M50_HI), (KS, PHI_M20_LO, PHI_M20_HI),
                (K, PHI_M10_LO, PHI_M10_HI), (K, PHI_M5_LO, PHI_M5_HI)]),
    dict(ideal_k=KC, ideal=BETA_IDEAL, lw=1.8,
         lines=[(K, BETA_M50), (K, BETA_M20), (K, BETA_M10), (K, BETA_M5)],
         bands=[(K, BETA_M50_LO, BETA_M50_HI), (K, BETA_M20_LO, BETA_M20_HI),
                (K, BETA_M10_LO, BETA_M10_HI), (K, BETA_M5_LO, BETA_M5_HI)]),
]

for p in panels:
    assert len(p["ideal_k"]) == len(p["ideal"])
    for kk, yy in p["lines"]:
        assert len(kk) == len(yy), (len(kk), len(yy))
    for kk, lo, hi in p["bands"]:
        assert len(kk) == len(lo) == len(hi), (len(kk), len(lo), len(hi))

fig = go.Figure()

for pi, p in enumerate(panels):
    ax = "" if pi == 0 else str(pi + 1)
    xa, ya = "x" + ax, "y" + ax
    # noisy mean lines first (m=5 up to m=50); shaded bands are laid on top
    for si in [3, 2, 1, 0]:
        kk, yy = p["lines"][si]
        fig.add_trace(go.Scatter(
            x=kk, y=yy, mode="lines", xaxis=xa, yaxis=ya,
            line=dict(color=LINE_COLORS[si], width=p["lw"]),
            name=SERIES_NAMES[si], showlegend=(pi == 0),
            legendrank=2 + si, hoverinfo="skip"))
    for si in [3, 2, 1, 0]:
        kk, lo, hi = p["bands"][si]
        fig.add_trace(go.Scatter(
            x=list(kk) + list(kk)[::-1], y=list(hi) + list(lo)[::-1],
            mode="lines", fill="toself", fillcolor=BAND_COLORS[si],
            line=dict(width=0), xaxis=xa, yaxis=ya,
            showlegend=False, hoverinfo="skip"))
    fig.add_trace(go.Scatter(
        x=p["ideal_k"], y=p["ideal"], mode="lines", xaxis=xa, yaxis=ya,
        line=dict(color="black", width=3.2), name="Ideal case",
        showlegend=(pi == 0), legendrank=1, hoverinfo="skip"))

# Figure fills the whole 685 x 924 window (body margin removed by post_script).
W, H = 685, 924


def px(x):
    return x / W


def py(y):
    return 1 - y / H


X0, X1 = px(83), px(652)
DOMAINS = [(py(298), py(13)), (py(577), py(352)), (py(861), py(631))]
YRANGES = [[0.45, 1.0], [0.0, 1.0], [-10, 10]]
YTICKS = [(YA_TICKS, YA_TICKTEXT), (YB_TICKS, YB_TICKTEXT), (YC_TICKS, YC_TICKTEXT)]

common = dict(showline=True, linecolor=AXIS_COLOR, linewidth=1, mirror="ticks",
              ticks="inside", ticklen=5, tickcolor=AXIS_COLOR, tickwidth=1,
              showgrid=True, gridcolor=GRID_COLOR, gridwidth=1, zeroline=False,
              automargin=False, ticklabeloverflow="allow",
              tickfont=dict(family=SERIF, size=22, color=AXIS_COLOR))

layout = dict(template="none", width=W, height=H, margin=dict(l=0, r=0, t=0, b=0),
              paper_bgcolor="white", plot_bgcolor="white", showlegend=True,
              hovermode=False)
for pi in range(3):
    ax = "" if pi == 0 else str(pi + 1)
    layout["xaxis" + ax] = dict(common, domain=[X0, X1], range=[0, 400],
                                anchor="y" + ax, tickvals=X_TICKS,
                                ticktext=[str(v) for v in X_TICKS])
    layout["yaxis" + ax] = dict(common, domain=list(DOMAINS[pi]), range=YRANGES[pi],
                                anchor="x" + ax, tickvals=YTICKS[pi][0],
                                ticktext=YTICKS[pi][1])
fig.update_layout(**layout)

fig.update_layout(legend=dict(
    x=px(632), xanchor="right", y=py(168), yanchor="top",
    bgcolor="white", bordercolor=AXIS_COLOR, borderwidth=1,
    font=dict(family=SERIF, size=17, color="black"),
    tracegroupgap=0, itemwidth=40))

ann = []
ytitles = ["Approximation ratio, <i>r</i><sub><i>A</i></sub>",
           "Success probability, <i>ϕ</i>",
           "Circuit parameter, <i>β</i>"]
ycenters = [148, 462, 750]
for t, yc in zip(ytitles, ycenters):
    ann.append(dict(text=t, xref="paper", yref="paper", x=px(26), y=py(yc),
                    xanchor="center", yanchor="middle", textangle=-90, showarrow=False,
                    font=dict(family=SERIF, size=27, color=AXIS_COLOR)))
ann.append(dict(text="Layer, <i>k</i>", xref="paper", yref="paper",
                x=(X0 + X1) / 2, y=py(909), xanchor="center", yanchor="middle",
                showarrow=False, font=dict(family=SERIF, size=27, color=AXIS_COLOR)))
for lab, yc in zip(["(a)", "(b)", "(c)"], [38, 380, 651]):
    ann.append(dict(text=lab, xref="paper", yref="paper", x=px(92), y=py(yc),
                    xanchor="left", yanchor="middle", showarrow=False,
                    font=dict(family=SANS, size=24, color="black")))
fig.update_layout(annotations=ann)

fig.write_html("out.html",
               config={"displayModeBar": False, "staticPlot": True},
               post_script="document.body.style.margin='0';"
                           "document.body.style.overflow='hidden';")
